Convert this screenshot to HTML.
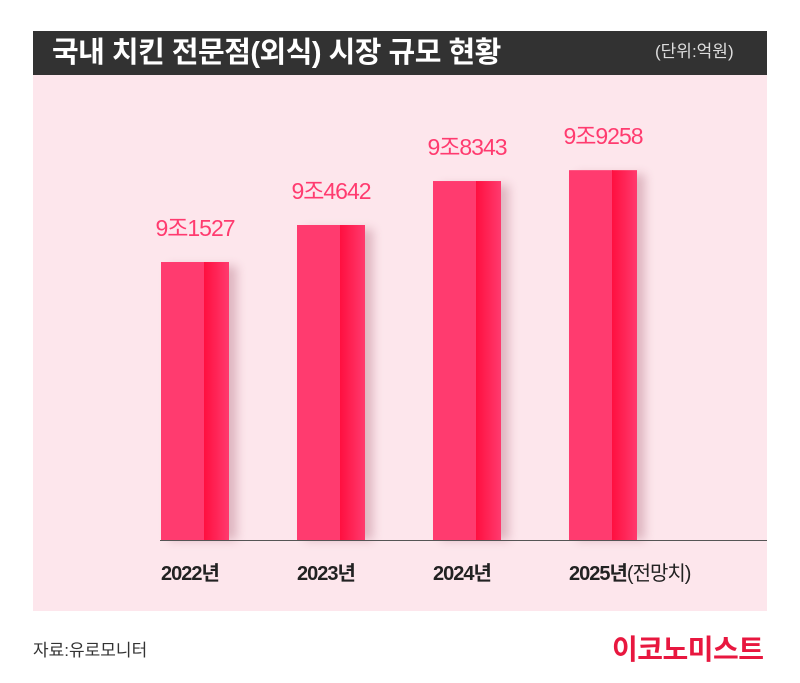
<!DOCTYPE html>
<html><head><meta charset="utf-8"><style>
body{margin:0;width:800px;height:683px;background:#fff;font-family:"Liberation Sans","Noto Sans CJK KR",sans-serif;overflow:hidden;position:relative}
.t{position:absolute}
</style></head><body>
<div class="t" style="left:33px;top:31px;width:734px;height:44px;background:#323232"></div>
<div class="t" style="left:52px;top:33px;font-size:29px;font-weight:bold;color:#fff;line-height:40px;letter-spacing:-0.5px">국내 치킨 전문점(외식) 시장 규모 현황</div>
<div class="t" style="left:655px;top:40px;font-size:17px;color:#ddd;line-height:24px">(단위:억원)</div>
<div class="t" style="left:33px;top:75px;width:734px;height:536px;background:#fde6ec"></div>
<svg class="t" style="left:0;top:0" width="800" height="683" id="chart">
<defs>
<linearGradient id="rg" x1="0" x2="1"><stop offset="0" stop-color="#ff0f3f"/><stop offset="1" stop-color="#ff3a6e"/></linearGradient>
<filter id="sh" x="-20%" y="-10%" width="160%" height="120%"><feGaussianBlur stdDeviation="5"/></filter>
</defs>
</svg>
<div class="t" style="left:33px;top:636px;font-size:17px;color:#333">자료:유로모니터</div>
<div class="t" style="left:612px;top:628px;font-size:28px;font-weight:bold;color:#e8173f;letter-spacing:-0.5px">이코노미스트</div>
<script>
const categories=["2022년","2023년","2024년","2025년"];
const suffix=["","","","(전망치)"];
const values=[91527,94642,98343,99258];
const valueLabels=["9조1527","9조4642","9조8343","9조9258"];
const svg=document.getElementById('chart');
const NS="http://www.w3.org/2000/svg";
const base=540,minV=68127,scale=0.01188;
const y=v=>base-(v-minV)*scale;
const x=i=>161+i*136;
function mk(t,a){const e=document.createElementNS(NS,t);for(const k in a)e.setAttribute(k,a[k]);svg.appendChild(e);return e;}
values.forEach((v,i)=>{
 const top=y(v),h=base-top;
 const s=mk('rect',{x:x(i)+8,y:top+4,width:68,height:h-4,fill:'#b87a8a',opacity:0.45,filter:'url(#sh)'});
 
 
 const a=mk('rect',{x:x(i),y:top,width:44,height:h,fill:'#ff3b6f'});
 
 
 const b=mk('rect',{x:x(i)+43,y:top,width:25,height:h,fill:'url(#rg)'});
 
 
 const t=mk('text',{x:x(i)+34,y:top-26,'text-anchor':'middle','font-size':23,fill:'#ff3b6f','letter-spacing':'-1'});
 t.textContent=valueLabels[i];
 
 
 const c=mk('text',{x:x(i),y:580,'font-size':20,fill:'#222','font-weight':'bold','letter-spacing':'-1'});
 c.textContent=categories[i];
 if(suffix[i]){const sp=document.createElementNS(NS,'tspan');sp.setAttribute('font-weight','normal');sp.textContent=suffix[i];c.appendChild(sp);}
 
 
});
const ax=mk('line',{x1:160,x2:767,y1:540.5,y2:540.5,stroke:'#555','stroke-width':1});


</script>
</body></html>
